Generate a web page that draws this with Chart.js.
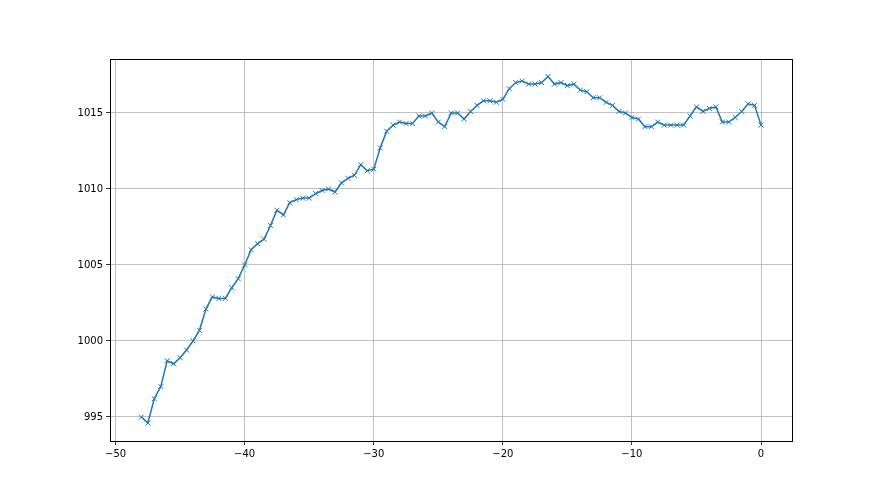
<!DOCTYPE html>
<html>
<head>
<meta charset="utf-8">
<script src="https://cdn.jsdelivr.net/npm/chart.js@4"></script>
<style>
  html, body { margin: 0; padding: 0; background: #fff; }
  #wrap { width: 880px; height: 495px; }
</style>
</head>
<body>
<div id="wrap"><canvas id="chart" width="880" height="495"></canvas></div>
<script>
// Datos: tiempo (x) y presión (y)
const tiempos = [
    -48, -47.5, -47, -46.5, -46, -45.5, -45, -44.5, -44, -43.5,
    -43, -42.5, -42, -41.5, -41, -40.5, -40, -39.5, -39, -38.5,
    -38, -37.5, -37, -36.5, -36, -35.5, -35, -34.5, -34, -33.5,
    -33, -32.5, -32, -31.5, -31, -30.5, -30, -29.5, -29, -28.5,
    -28, -27.5, -27, -26.5, -26, -25.5, -25, -24.5, -24, -23.5,
    -23, -22.5, -22, -21.5, -21, -20.5, -20, -19.5, -19, -18.5,
    -18, -17.5, -17, -16.5, -16, -15.5, -15, -14.5, -14, -13.5,
    -13, -12.5, -12, -11.5, -11, -10.5, -10, -9.5, -9, -8.5,
    -8, -7.5, -7, -6.5, -6, -5.5, -5, -4.5, -4, -3.5,
    -3, -2.5, -2, -1.5, -1, -0.5, 0
];
const presion = [
    995.0, 994.6, 996.2, 997.0, 998.7, 998.5, 998.9, 999.4, 1000.0, 1000.7,
    1002.1, 1002.9, 1002.8, 1002.8, 1003.5, 1004.1, 1005.0, 1006.0, 1006.4, 1006.7,
    1007.6, 1008.6, 1008.3, 1009.1, 1009.3, 1009.4, 1009.4, 1009.7, 1009.9, 1010.0,
    1009.8, 1010.4, 1010.7, 1010.9, 1011.6, 1011.2, 1011.3, 1012.7, 1013.8, 1014.2,
    1014.4, 1014.3, 1014.3, 1014.8, 1014.8, 1015.0, 1014.4, 1014.1, 1015.0, 1015.0,
    1014.6, 1015.1, 1015.5, 1015.8, 1015.8, 1015.7, 1015.9, 1016.6, 1017.0, 1017.1,
    1016.9, 1016.9, 1017.0, 1017.4, 1016.9, 1017.0, 1016.8, 1016.9, 1016.5, 1016.4,
    1016.0, 1016.0, 1015.7, 1015.5, 1015.1, 1015.0, 1014.7, 1014.6, 1014.1, 1014.1,
    1014.4, 1014.2, 1014.2, 1014.2, 1014.2, 1014.8, 1015.4, 1015.1, 1015.3, 1015.4,
    1014.4, 1014.4, 1014.7, 1015.1, 1015.6, 1015.5, 1014.2
];
const ticksX = [-50, -40, -30, -20, -10, 0];
const ticksY = [995, 1000, 1005, 1010, 1015];

const AZUL = '#1f77b4';
const fmt = v => String(v).replace('-', '\u2212');

// Marco completo alrededor del área del gráfico
const marco = {
    id: 'marco',
    afterDraw(chart) {
        const { ctx, chartArea: a } = chart;
        ctx.save();
        ctx.strokeStyle = '#000';
        ctx.lineWidth = 1;
        ctx.strokeRect(Math.round(a.left) + 0.5, Math.round(a.top) + 0.5,
                       Math.round(a.right - a.left), Math.round(a.bottom - a.top));
        ctx.restore();
    }
};

new Chart(document.getElementById('chart'), {
    type: 'line',
    data: {
        datasets: [{
            data: tiempos.map((t, i) => ({ x: t, y: presion[i] })),
            borderColor: AZUL,
            backgroundColor: AZUL,
            borderWidth: 1.5,
            pointStyle: 'crossRot',
            pointRadius: 3.5,
            pointBorderWidth: 1,
            pointBorderColor: AZUL,
            tension: 0,
            fill: false
        }]
    },
    options: {
        responsive: false,
        animation: false,
        devicePixelRatio: 1,
        layout: { padding: { left: 0, top: 59, right: 88, bottom: 0 } },
        plugins: { legend: { display: false }, tooltip: { enabled: false } },
        scales: {
            x: {
                type: 'linear',
                min: -50.43,
                max: 2.4,
                afterBuildTicks: s => { s.ticks = ticksX.map(v => ({ value: v })); },
                afterFit: s => { s.height = 54; },
                grid: { color: '#b0b0b0', lineWidth: 0.8, tickColor: '#000', tickLength: 4 },
                border: { display: false },
                ticks: {
                    color: '#000', padding: 3, maxRotation: 0,
                    font: { family: 'DejaVu Sans', size: 10 },
                    callback: v => fmt(v)
                }
            },
            y: {
                min: 993.42,
                max: 1018.55,
                afterBuildTicks: s => { s.ticks = ticksY.map(v => ({ value: v })); },
                afterFit: s => { s.width = 110; },
                grid: { color: '#b0b0b0', lineWidth: 0.8, tickColor: '#000', tickLength: 4 },
                border: { display: false },
                ticks: {
                    color: '#000', padding: 3,
                    font: { family: 'DejaVu Sans', size: 10 },
                    callback: v => fmt(v)
                }
            }
        }
    },
    plugins: [marco]
});
</script>
</body>
</html>
